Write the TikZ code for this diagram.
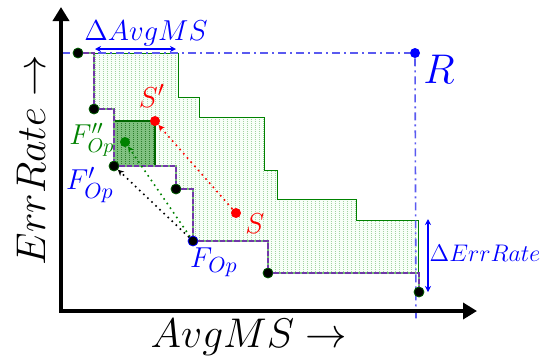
\documentclass[tikz,border=0pt]{standalone}
\usepackage{amsmath,amssymb}
\usepackage{xcolor}
\usepackage{tikz}
\usetikzlibrary{positioning,arrows.meta,patterns.meta}

\definecolor{paretoblue}{RGB}{0,0,255}
\definecolor{refblue}{RGB}{90,90,240}
\definecolor{stairpurple}{RGB}{112,56,168}
\definecolor{areagreen}{RGB}{0,130,0}

\tikzdeclarepattern{
  name=vdots,
  type=uncolored,
  bounding box={(0pt,0pt) and (1.9pt,1pt)},
  tile size={(1.9pt,1pt)},
  code={\pgfpathrectangle{\pgfpointorigin}{\pgfpoint{0.4pt}{0.5pt}}\pgfusepath{fill}}
}

\begin{document}
\begin{tikzpicture}[
            x=0.5pt, y=-0.5pt, % one unit = one pixel of the sketch
            axis/.style={line width=2pt, draw=black, {Triangle[width=8pt,length=7pt]}-{Triangle[width=8pt,length=7pt]}},
            pt/.style={circle, fill=black, draw=areagreen!70!black, line width=0.4pt, inner sep=0pt, minimum size=5pt},
            dot/.style={circle, inner sep=0pt, minimum size=5pt},
            lbl/.style={font=\fontsize{15.5}{17}\selectfont},
            bigl/.style={font=\fontsize{21}{24}\selectfont},
            stair/.style={line width=1.3pt, draw=stairpurple, dash pattern=on 2.6pt off 1pt},
            refline/.style={line width=0.8pt, draw=refblue, dash pattern=on 4pt off 2pt on 1pt off 2pt},
            delta/.style={thick, draw=paretoblue, {Stealth[length=3pt,width=3pt]}-{Stealth[length=3pt,width=3pt]}},
            move/.style={line width=0.8pt, dotted, -{Stealth[length=3pt,width=3pt]}}
        ]
        \useasboundingbox (0,0) rectangle (542,361);

        % Area gained (between the two fronts)
        \fill[green!3] (94,53) -| (178,97) -| (199,117) -| (264,170) -| (277,199) -| (356,220) -| (418,273)
            -- (268,273) |- (193,241) |- (176,189) |- (114,166) |- (94,109) -- cycle;
        \fill[pattern={vdots}, pattern color=areagreen!55] (94,53) -| (178,97) -| (199,117) -| (264,170) -| (277,199) -| (356,220) -| (418,273)
            -- (268,273) |- (193,241) |- (176,189) |- (114,166) |- (94,109) -- cycle;
        \draw[areagreen, line width=0.5pt] (94,53) -| (178,97) -| (199,117) -| (264,170) -| (277,199) -| (356,220) -| (418,273);

        % Dominated box of F''
        \fill[areagreen!50] (114,121) rectangle (155,166);
        \fill[pattern={vdots}, pattern color=areagreen!70!black] (114,121) rectangle (155,166);
        \draw[areagreen!80!black, line width=0.6pt] (114,121) rectangle (155,166);

        % Reference point lines
        \node[dot, fill=paretoblue] (r) at (415,53) {};
        \coordinate (rl) at (62,53);
        \coordinate (rb) at (416,320);
        \draw[refline] (rl) -- (r);
        \draw[refline] (r) -- (rb);

        % Pareto front points
        \node[pt] (p1) at (78,53) {};
        \node[pt] (p2) at (94,109) {};
        \node[pt] (p3) at (114,166) {};
        \node[pt] (p4) at (176,189) {};
        \node[pt, draw=paretoblue] (fop) at (193,241) {};
        \node[pt] (p6) at (268,273) {};
        \node[pt] (p7) at (419,292) {};

        % Staircase of the front
        \draw[areagreen!55, line width=1.3pt] (p1) -| (p2) -| (p3) -| (p4) -| (fop) -| (p6) -| (p7);
        \draw[stair] (p1) -| (p2) -| (p3) -| (p4) -| (fop) -| (p6) -| (p7);

        % Moved points
        \node[dot, fill=red] (s) at (236,213) {};
        \node[dot, fill=red] (s2) at (155,121) {};
        \node[dot, fill=areagreen] (f2) at (125,142) {};

        \draw[move, red] (s) -- (s2);
        \draw[move, areagreen] (fop) -- (f2);
        \draw[move, black] (fop) -- (p3);

        % Labels
        \node[lbl, red] (sl) at (255,224) {$S$};
        \node[lbl, red] (s2l) at (152,96) {$S'$};
        \node[lbl, areagreen, font=\fontsize{14}{15}\selectfont] (f2l) at (92,140) {$F''_{Op}$};
        \node[lbl, paretoblue] (f1l) at (90,185) {$F'_{Op}$};
        \node[lbl, paretoblue] (fopl) at (214,262) {$F_{Op}$};
        \node[paretoblue, font=\fontsize{22}{24}\selectfont] (rlbl) at (439,69) {$R$};

        % Deltas
        \coordinate (da) at (95,49);
        \coordinate (db) at (176,49);
        \draw[delta] (da) -- (db);
        \node[paretoblue, font=\fontsize{13.5}{15}\selectfont] (dams) at (146,33) {$\Delta AvgMS$};
        \coordinate (dc) at (428,219);
        \coordinate (dd) at (428,292);
        \draw[delta] (dc) -- (dd);
        \node[paretoblue, font=\fontsize{12}{14}\selectfont] (derr) at (485,253) {$\Delta ErrRate$};

        % Axes
        \coordinate (ytip) at (61,7);
        \coordinate (xtip) at (477,311);
        \draw[axis] (ytip) |- (xtip);
        \node[bigl] (xl) at (249,337) {$AvgMS \rightarrow$};
        \node[bigl, rotate=90] (yl) at (31,160) {$ErrRate \rightarrow$};

        \end{tikzpicture}
\end{document}
